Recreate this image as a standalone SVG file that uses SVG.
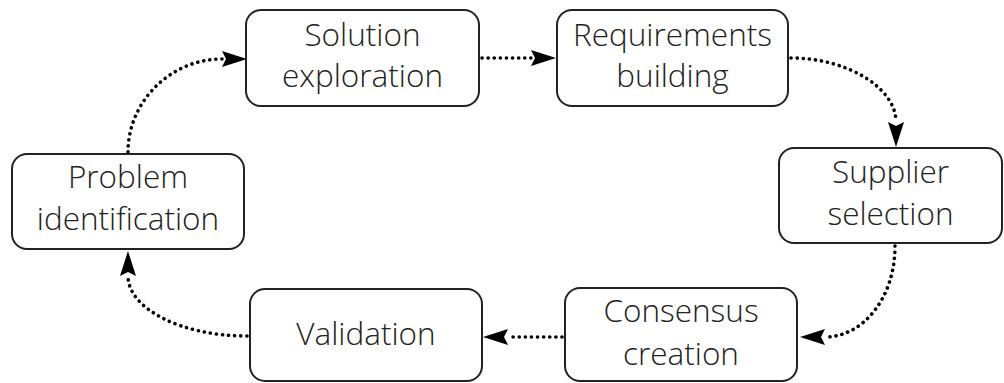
<svg xmlns="http://www.w3.org/2000/svg" width="1004" height="383" viewBox="0 0 1004 383">
<style>
.box{fill:#fff;stroke:#222;stroke-width:2}
.lbl{font-family:"Open Sans","Noto Sans",sans-serif;font-size:31.5px;font-weight:350;fill:#222;text-anchor:middle}
.con{fill:none;stroke:#000;stroke-width:3.6;stroke-linecap:round;stroke-dasharray:0.1 6}
.ah{fill:#000}
</style>
<rect width="1004" height="383" fill="#fff"/>
<g id="connectors">
<path class="con" d="M128,152 C128,101.5 170.5,59 222,59" />
<path class="ah" d="M222,51 L247,59 L222,67 L226,59 Z"/>
<path class="con" d="M482,58 L531,58"/>
<path class="ah" d="M531,50 L556,58 L531,66 L535,58 Z"/>
<path class="con" d="M791,58 C847.6,58 896,88 896,122"/>
<path class="ah" d="M888,122 L896,147 L904,122 L896,126 Z"/>
<path class="con" d="M895,246 C895,298 863,337 825,337"/>
<path class="ah" d="M825,329 L800,337 L825,345 L821,337 Z"/>
<path class="con" d="M562,337 L508,337"/>
<path class="ah" d="M508,329 L483,337 L508,345 L504,337 Z"/>
<path class="con" d="M247,336 C180,336 128,308 128,276"/>
<path class="ah" d="M120,276 L128,251 L136,276 L128,272 Z"/>
</g>
<g id="solution">
<rect class="box" x="246" y="10" width="233" height="96" rx="15"/>
<text class="lbl" x="362.5" y="46">Solution</text>
<text class="lbl" x="362.5" y="87">exploration</text>
</g>
<g id="requirements">
<rect class="box" x="557" y="10" width="231" height="96" rx="15"/>
<text class="lbl" x="672.5" y="46">Requirements</text>
<text class="lbl" x="672.5" y="87">building</text>
</g>
<g id="supplier">
<rect class="box" x="779" y="148" width="223" height="95" rx="15"/>
<text class="lbl" x="890.5" y="183">Supplier</text>
<text class="lbl" x="890.5" y="225">selection</text>
</g>
<g id="consensus">
<rect class="box" x="565" y="288" width="232" height="93" rx="15"/>
<text class="lbl" x="681" y="322">Consensus</text>
<text class="lbl" x="681" y="365">creation</text>
</g>
<g id="validation">
<rect class="box" x="250" y="289" width="232" height="92" rx="15"/>
<text class="lbl" x="366" y="345">Validation</text>
</g>
<g id="problem">
<rect class="box" x="12" y="154" width="232" height="95" rx="15"/>
<text class="lbl" x="128" y="188">Problem</text>
<text class="lbl" x="128" y="230">identification</text>
</g>
</svg>
